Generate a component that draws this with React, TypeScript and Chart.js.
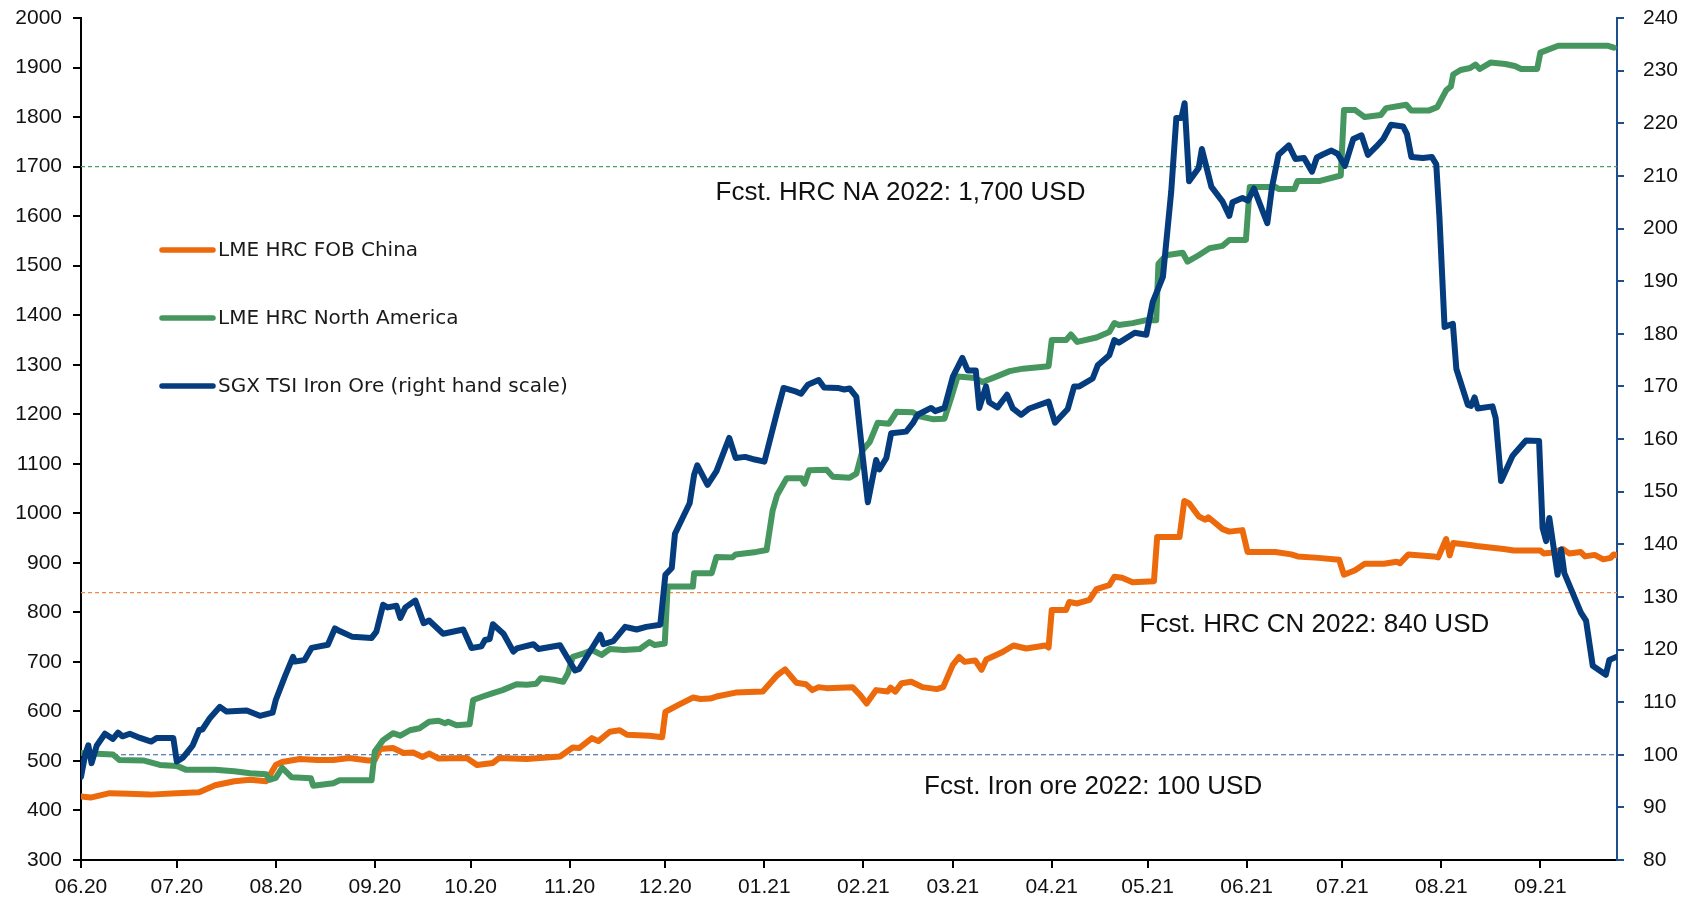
import React, { useEffect, useRef } from "react";
import { Chart, registerables } from "chart.js";

Chart.register(...registerables);

// Day offsets from 1 June 2020
const monthTicks = [0, 30, 61, 92, 122, 153, 183, 214, 245, 273, 304, 334, 365, 395, 426, 457];
const monthLabels = ["06.20", "07.20", "08.20", "09.20", "10.20", "11.20", "12.20", "01.21", "02.21", "03.21", "04.21", "05.21", "06.21", "07.21", "08.21", "09.21"];
const lastDay = 481;

const seriesNames = ["LME HRC FOB China", "LME HRC North America", "SGX TSI Iron Ore (right hand scale)"];

// [day, USD/t]
const lmeHrcChina: [number, number][] = [
  [0, 428], [3, 426], [9, 435], [15, 434], [21.6, 432], [30, 435], [37, 437], [42, 451], [48, 459], [53, 462], [58, 459],
  [61, 492], [63, 498], [68.5, 504], [74, 502], [79, 502], [84, 506], [90, 501], [92, 502], [93.6, 524], [97.7, 526],
  [101, 516], [104, 517], [107, 508], [109, 515], [112, 505], [120.8, 506], [124, 492], [129, 496], [131, 506],
  [139.6, 504], [150, 509], [154, 527], [156, 526], [160, 546], [162, 540], [165.6, 559], [168.7, 562], [171, 553],
  [178, 551], [182, 548], [183, 599], [186.5, 611], [191.6, 628], [194, 625], [197, 626], [199, 630], [205, 638],
  [213.5, 640], [218, 673], [220.5, 685], [224, 658], [227, 655], [229, 643], [231, 649], [233.5, 647], [241.6, 649],
  [244, 633], [246, 616], [249, 643], [252.6, 640], [253.5, 648], [255, 640], [257, 657], [260, 660], [263.5, 649],
  [268, 645], [270, 649], [273, 694], [275, 710], [276.7, 700], [280, 703], [282, 684], [283.5, 705], [288.6, 720],
  [292, 733], [296, 727], [302, 733], [303, 729], [304, 805], [308.5, 805], [309.5, 821], [312, 818], [315.8, 825],
  [318, 847], [322, 855], [323.6, 872], [326, 870], [329.3, 861], [336, 863], [337, 952], [344, 952], [345.5, 1025],
  [347, 1020], [350, 994], [352, 987], [353, 992], [357.5, 968], [359.6, 963], [363.7, 966], [365.3, 922], [374, 922],
  [379, 917], [381, 913], [387.5, 910], [394, 906], [395.5, 876], [399, 885], [402, 898], [408, 898], [412, 902],
  [413, 899], [415.7, 917], [423.6, 913], [425, 911], [427.5, 948], [428.6, 915], [429.7, 940], [435, 936], [437, 934],
  [445.5, 928], [448.7, 925], [457, 925], [458, 919], [461, 921], [464, 928], [466, 919], [469.6, 922], [471, 913],
  [474, 916], [476.7, 907], [479, 910], [480, 917], [481, 915],
];

const lmeHrcNorthAmerica: [number, number][] = [
  [0, 516], [10, 513], [12, 502], [19.5, 501], [24.7, 492], [30, 490], [33, 482], [42, 482], [48, 479], [53, 475],
  [58, 473], [59, 462], [61, 466], [63, 486], [66, 467], [72, 465], [72.7, 450], [79, 455], [81, 461], [91, 461],
  [92, 519], [94.6, 542], [97.7, 556], [100, 551], [103, 562], [106, 566], [109, 579], [112, 581], [114, 576],
  [115, 579], [117.6, 572], [121.7, 574], [122.8, 623], [125.8, 630], [129, 637], [132, 643], [136.4, 655],
  [139.6, 654], [142.6, 656], [144, 667], [148, 664], [151, 660], [152.5, 677], [154, 710], [157, 716], [160, 724],
  [163, 714], [165.6, 726], [170, 724], [175, 726], [178, 740], [179.7, 734], [182.8, 737], [183.7, 852],
  [191.6, 852], [192, 879], [197.5, 879], [199, 912], [204, 911], [205, 917], [211.5, 922], [214.7, 926],
  [216.6, 1006], [218, 1037], [221, 1071], [225.6, 1071], [226.6, 1060], [228, 1087], [233.5, 1088], [235.4, 1074],
  [240.7, 1072], [242.8, 1080], [244.8, 1128], [247, 1144], [249.5, 1183], [253, 1181], [255.4, 1205], [260.5, 1204],
  [262.6, 1196], [266.7, 1190], [270.4, 1191], [272.6, 1235], [274.5, 1276], [280, 1273], [282.3, 1265],
  [286.6, 1276], [290.8, 1287], [295, 1292], [303, 1297], [304, 1350], [308.5, 1350], [310, 1361], [312, 1346],
  [318, 1355], [322, 1366], [323.6, 1384], [325, 1380], [329.3, 1384], [333.6, 1390], [336.7, 1390], [337.4, 1504],
  [339.8, 1521], [345, 1526], [346.5, 1508], [350, 1521], [353.4, 1535], [357.5, 1540], [359.6, 1552], [364.8, 1552],
  [366, 1659], [374, 1659], [375, 1655], [380, 1655], [381, 1671], [388, 1671], [394.5, 1682], [395.5, 1814],
  [399, 1814], [402, 1800], [407, 1804], [408.7, 1818], [415, 1825], [416.6, 1813], [422, 1813], [424.7, 1820],
  [427.5, 1854], [429, 1862], [429.7, 1886], [432, 1895], [435, 1899], [436.7, 1906], [438, 1897], [441.4, 1910],
  [446, 1907], [449, 1903], [451, 1897], [456, 1897], [457, 1930], [462.6, 1944], [478, 1944], [480, 1940],
];

const sgxTsiIronOre: [number, number][] = [
  [0, 95.8], [1.3, 100], [2.3, 101.8], [3.3, 98.4], [4.9, 101.7], [7.5, 104], [10, 103], [11.6, 104.2], [13, 103.5],
  [15.3, 104], [18.5, 103.2], [22, 102.5], [23.7, 103.2], [28.9, 103.2], [30, 98.7], [32, 99.5], [35, 101.8],
  [37, 104.7], [38, 104.8], [40.4, 107], [43.5, 109.1], [45.6, 108.2], [51.9, 108.4], [56, 107.4], [60, 108],
  [61, 110.4], [63.8, 114.8], [66.4, 118.6], [67, 117.7], [70, 118], [72.2, 120.3], [77.3, 120.9], [79.5, 124],
  [81, 123.5], [85, 122.4], [91, 122.2], [92.5, 123.4], [94.6, 128.5], [96, 128], [98.8, 128.3], [100, 126],
  [101.6, 128], [104.7, 129.3], [107.3, 125], [109, 125.5], [113.4, 123], [119.7, 123.8], [122.3, 120.3],
  [125.4, 120.6], [126.5, 121.8], [128, 122], [129, 124.8], [132.3, 123], [135.4, 119.6], [136.5, 120.2],
  [141.7, 121], [143.3, 120.1], [150, 120.8], [154.7, 116], [156, 116.3], [162.6, 122.8], [163.6, 121],
  [166.7, 121.6], [170.4, 124.3], [174, 123.8], [177, 124.3], [181.4, 124.7], [183, 134.2], [185, 135.5], [186, 142],
  [190.6, 147.8], [192, 153.2], [193, 155], [196.2, 151.3], [199, 153.9], [203, 160.2], [205, 156.4], [208, 156.6],
  [211, 156.1], [214, 155.7], [218, 165.2], [220, 169.7], [224, 169], [225.5, 168.6], [227.6, 170.3], [231, 171.2],
  [232.7, 169.8], [237, 169.7], [239, 169.4], [240.7, 169.6], [242.8, 168], [244.8, 156.6], [246.4, 148], [249, 156],
  [250, 154.2], [252.2, 156.4], [253.7, 161.1], [258.4, 161.4], [260.5, 163], [262, 164.6], [266.2, 165.9],
  [267.5, 165.3], [270.4, 165.9], [273, 171.8], [276, 175.4], [277.7, 173], [280.2, 173], [281.3, 165.9],
  [283.4, 170], [284.4, 167], [287, 166], [290, 168.4], [291.8, 165.8], [294.4, 164.6], [297, 165.8], [303, 167.1],
  [305, 163.1], [309, 165.7], [311, 170], [312.6, 170], [316.8, 171.5], [318.4, 174], [322, 175.9], [323.6, 178.8],
  [325, 178.3], [330, 180.2], [333.6, 179.8], [335.6, 186], [338.8, 190.8], [341.4, 207], [343, 221], [344.6, 221],
  [345.6, 223.8], [347, 209], [350, 211.5], [351, 215.1], [354, 207.9], [357.5, 205.1], [359.6, 202.4], [360.6, 205],
  [363.7, 205.8], [365.4, 205.3], [367.3, 207.6], [371.5, 201], [373, 208], [375, 214], [378.2, 215.8],
  [380.3, 213.2], [383, 213.4], [385.5, 210.8], [387, 213.5], [389, 214.1], [391.6, 214.8], [393.5, 214.2],
  [395.8, 211.9], [398.4, 217], [401, 217.7], [403, 214], [405.5, 215.5], [407.8, 217], [410.2, 219.7], [414, 219.4],
  [415.2, 218], [416.6, 213.6], [420.2, 213.4], [423, 213.6], [424.4, 212.2], [425.4, 202.1], [427, 181.3],
  [429.6, 181.9], [430.7, 173.3], [434.3, 166.5], [435.3, 166.3], [436.4, 167.9], [437.4, 165.8], [442, 166.2],
  [443, 164], [444.7, 152], [448.3, 156.8], [449.4, 157.6], [452.5, 159.7], [456.6, 159.6], [457.7, 143.1],
  [458.8, 140.6], [459.8, 145], [462.4, 134.2], [463.5, 139], [464.5, 134.5], [469.7, 127], [471.3, 125.5],
  [473.4, 116.9], [477.5, 115.2], [478.6, 118], [480.8, 118.6],
];

const forecastHrcNA = 1700;
const forecastHrcCN = 840;
const forecastIronOre = 100;
const forecastTexts = ["Fcst. HRC NA 2022: 1,700 USD", "Fcst. HRC CN 2022: 840 USD", "Fcst. Iron ore 2022: 100 USD"];

const ORANGE = "#EC6A0C";
const GREEN = "#46965F";
const NAVY = "#053C7E";
const TICK_FONT = '"Liberation Sans", Arial, sans-serif';

const toXY = (arr: [number, number][]) => arr.map(([x, y]) => ({ x, y }));

const overlayPlugin = {
  id: "overlay",
  afterDraw(chart: any) {
    const { ctx, chartArea, scales } = chart;
    const xs = scales.x;
    const yl = scales.y;
    const yr = scales.y1;
    ctx.save();
    // forecast annotations
    ctx.fillStyle = "#111";
    ctx.font = '26px "Liberation Sans", Arial, sans-serif';
    ctx.textBaseline = "alphabetic";
    ctx.textAlign = "left";
    ctx.fillText(forecastTexts[0], xs.getPixelForValue(198.7), yl.getPixelForValue(1632));
    ctx.fillText(forecastTexts[1], xs.getPixelForValue(331.5), yl.getPixelForValue(760));
    ctx.fillText(forecastTexts[2], xs.getPixelForValue(264), yr.getPixelForValue(92.5));

    // legend
    const colors = [ORANGE, GREEN, NAVY];
    const lx0 = chartArea.left + 81;
    const lx1 = chartArea.left + 132;
    const ys = [chartArea.top + 232, chartArea.top + 300, chartArea.top + 368];
    ctx.font = '20px "DejaVu Sans", sans-serif';
    ctx.textBaseline = "middle";
    seriesNames.forEach((name, i) => {
      ctx.strokeStyle = colors[i];
      ctx.lineWidth = 5.5;
      ctx.lineCap = "round";
      ctx.beginPath();
      ctx.moveTo(lx0, ys[i]);
      ctx.lineTo(lx1, ys[i]);
      ctx.stroke();
      ctx.fillStyle = "#1a1a1a";
      ctx.fillText(name, lx1 + 5, ys[i] + 1);
    });
    ctx.restore();
  },
};

export default function App() {
  const canvasRef = useRef<HTMLCanvasElement | null>(null);

  useEffect(() => {
    if (!canvasRef.current) return;
    Chart.defaults.font.family = '"DejaVu Sans", sans-serif';
    const lineStyle = {
      borderWidth: 6,
      pointRadius: 0,
      tension: 0,
      borderJoinStyle: "round" as const,
      borderCapStyle: "round" as const,
      fill: false,
    };
    const chart = new Chart(canvasRef.current, {
      type: "line",
      data: {
        datasets: [
          { ...lineStyle, label: seriesNames[0], data: toXY(lmeHrcChina), borderColor: ORANGE, yAxisID: "y", order: 2 },
          { ...lineStyle, label: seriesNames[1], data: toXY(lmeHrcNorthAmerica), borderColor: GREEN, yAxisID: "y", order: 1 },
          { ...lineStyle, label: seriesNames[2], data: toXY(sgxTsiIronOre), borderColor: NAVY, yAxisID: "y1", order: 0 },
          {
            label: "fcNA", data: [{ x: 0, y: forecastHrcNA }, { x: lastDay, y: forecastHrcNA }],
            borderColor: "#4E9E66", borderWidth: 1.2, borderDash: [4, 3], pointRadius: 0, yAxisID: "y", order: 5,
          },
          {
            label: "fcCN", data: [{ x: 0, y: forecastHrcCN }, { x: lastDay, y: forecastHrcCN }],
            borderColor: "#F08A45", borderWidth: 1.2, borderDash: [4, 3], pointRadius: 0, yAxisID: "y", order: 5,
          },
          {
            label: "fcFe", data: [{ x: 0, y: forecastIronOre }, { x: lastDay, y: forecastIronOre }],
            borderColor: "#2D5B9A", borderWidth: 1.2, borderDash: [5, 3], pointRadius: 0, yAxisID: "y1", order: 5,
          },
        ],
      },
      options: {
        responsive: false,
        animation: false,
        devicePixelRatio: 1,
        layout: { padding: { top: 18, left: 0, right: 0, bottom: 0 } },
        plugins: { legend: { display: false }, tooltip: { enabled: false }, title: { display: false } },
        scales: {
          x: {
            type: "linear",
            min: 0,
            max: lastDay,
            afterBuildTicks: (s: any) => {
              s.ticks = monthTicks.map((v) => ({ value: v }));
            },
            afterFit: (s: any) => {
              s.height = 42;
            },
            ticks: {
              autoSkip: false,
              maxRotation: 0,
              padding: 7,
              color: "#111",
              font: { size: 21, family: TICK_FONT },
              callback: (v: any) => {
                const i = monthTicks.indexOf(Number(v));
                return i >= 0 ? monthLabels[i] : "";
              },
            },
            grid: { drawOnChartArea: false, drawTicks: true, tickLength: 8, color: "#000", lineWidth: 2 },
            border: { display: true, color: "#000", width: 2 },
          },
          y: {
            position: "left",
            min: 300,
            max: 2000,
            afterFit: (s: any) => {
              s.width = 81;
              s.paddingTop = 0;
              s.paddingBottom = 0;
            },
            ticks: {
              stepSize: 100, padding: 11, color: "#111", font: { size: 21, family: TICK_FONT },
              callback: (v: any) => String(v),
            },
            grid: { drawOnChartArea: false, drawTicks: true, tickLength: 8, color: "#000", lineWidth: 2 },
            border: { display: true, color: "#000", width: 2 },
          },
          y1: {
            position: "right",
            min: 80,
            max: 240,
            afterFit: (s: any) => {
              s.width = 79;
              s.paddingTop = 0;
              s.paddingBottom = 0;
            },
            ticks: {
              stepSize: 10, padding: 19, color: "#111", font: { size: 21, family: TICK_FONT },
              callback: (v: any) => String(v),
            },
            grid: { drawOnChartArea: false, drawTicks: true, tickLength: 7, color: "#1F4E8C", lineWidth: 2 },
            border: { display: true, color: "#1F4E8C", width: 2 },
          },
        },
      },
      plugins: [overlayPlugin],
    } as any);
    return () => chart.destroy();
  }, []);

  return (
    <div style={{ position: "fixed", left: 0, top: 0, width: 1696, height: 902, background: "#fff" }}>
      <canvas ref={canvasRef} width={1696} height={902} style={{ display: "block" }} />
    </div>
  );
}
